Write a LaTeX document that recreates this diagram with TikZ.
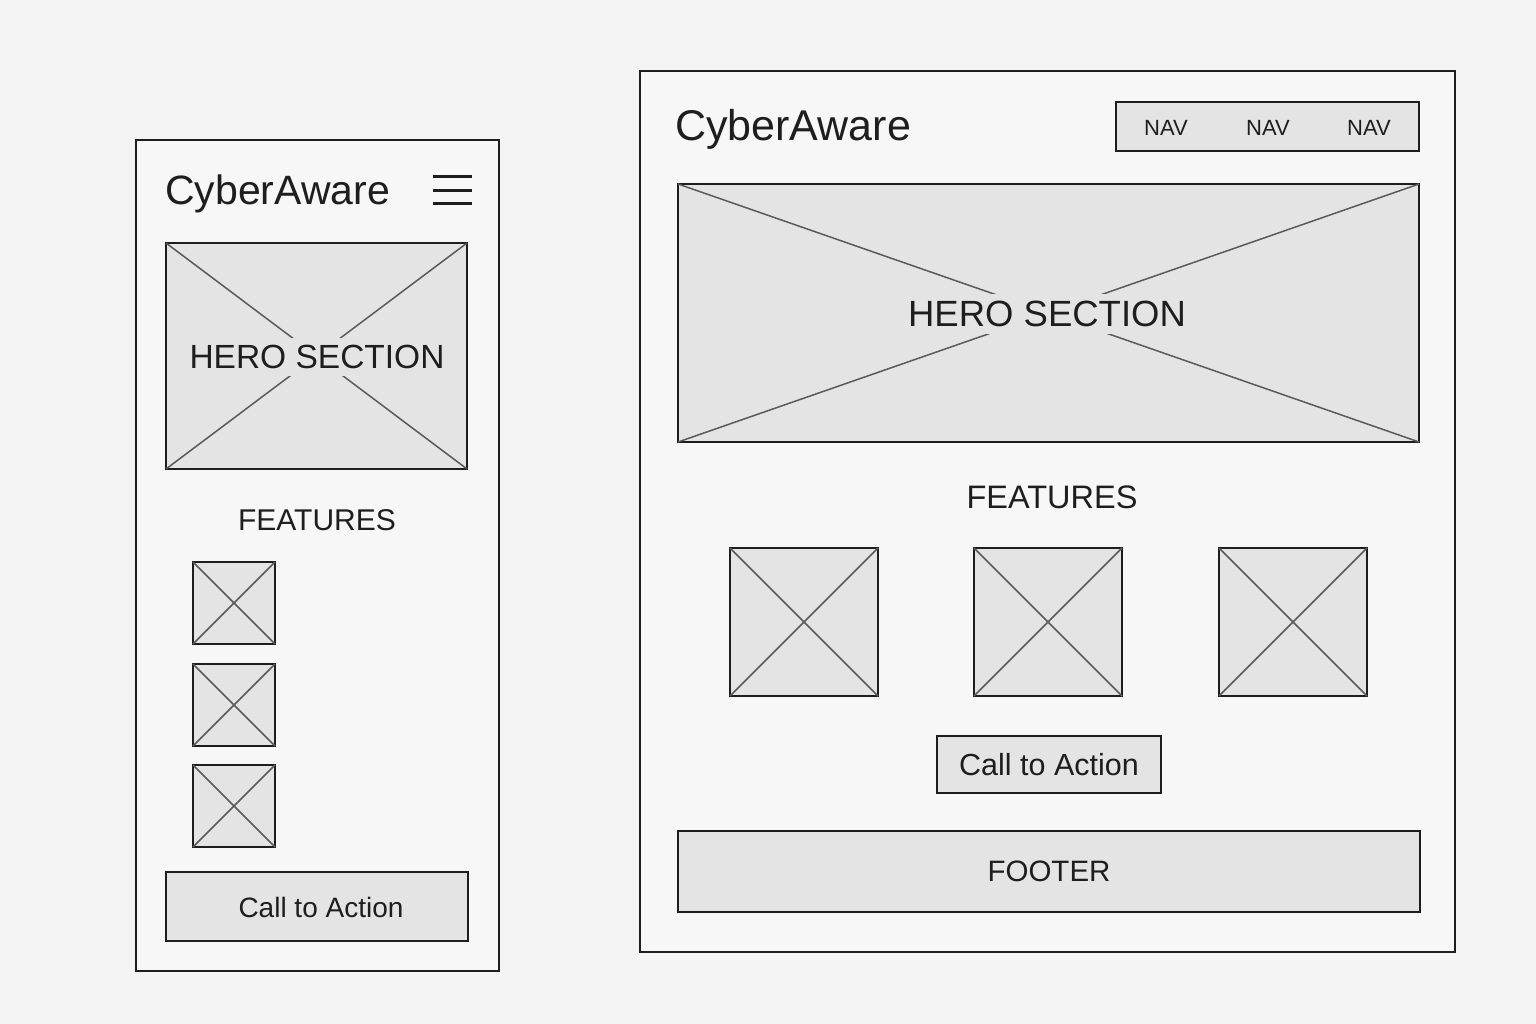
\documentclass[tikz,border=0pt]{standalone}
\usepackage{fontspec}
\setmainfont{Liberation Sans}
\definecolor{bg}{HTML}{F4F4F4}
\definecolor{page}{HTML}{F7F7F7}
\definecolor{panel}{HTML}{E4E4E4}
\definecolor{ink}{HTML}{1E1E1E}
\definecolor{cross}{HTML}{5A5A5A}
\newcommand{\fs}[1]{\fontsize{#1}{#1}\selectfont}
\tikzset{
  frame/.style={draw=ink, line width=2.6pt, fill=page, anchor=north west, inner sep=0pt, outer sep=0pt},
  panelbox/.style={draw=ink, line width=1.6pt, fill=panel, anchor=north west, inner sep=0pt, outer sep=0pt},
  crossline/.style={draw=cross, line width=1.5pt},
  txt/.style={text=ink, inner sep=0pt},
  heromask/.style={txt, fill=panel, inner xsep=2pt, inner ysep=7pt},
  burger/.style={draw=ink, line width=3pt},
}
\begin{document}
\begin{tikzpicture}[x=1pt, y=-1pt]
\useasboundingbox[fill=bg] (0,0) rectangle (1536,1024);

% ---------- mobile layout ----------
\node[frame, minimum width=363pt, minimum height=831pt] (mframe) at (136,140) {};
\node[txt, anchor=base west] (mlogo) at (165,205) {\fs{41}CyberAware};
\coordinate (mb1) at (433,177);
\coordinate (mb2) at (433,191);
\coordinate (mb3) at (433,204);
\draw[burger] (mb1) -- ++(39,0);
\draw[burger] (mb2) -- ++(39,0);
\draw[burger] (mb3) -- ++(39,0);

\node[panelbox, minimum width=301pt, minimum height=226pt] (mhero) at (166,243) {};
\draw[crossline] (mhero.north west) -- (mhero.south east);
\draw[crossline] (mhero.north east) -- (mhero.south west);
\node[heromask] (mherotxt) at (317,357) {\fs{33.5}HERO SECTION};

\node[txt] (mfeat) at (317,520) {\fs{30}FEATURES};

\foreach \i/\y in {1/562, 2/664, 3/765} {
  \node[panelbox, minimum width=82pt, minimum height=82pt] (mf\i) at (193,\y) {};
  \draw[crossline] (mf\i.north west) -- (mf\i.south east);
  \draw[crossline] (mf\i.north east) -- (mf\i.south west);
}

\node[panelbox, minimum width=302pt, minimum height=69pt] (mcta) at (166,872) {};
\node[txt] (mctatxt) at (321,907) {\fs{28}Call to Action};

% ---------- desktop layout ----------
\node[frame, minimum width=815pt, minimum height=881pt] (dframe) at (640,71) {};
\node[txt, anchor=base west] (dlogo) at (675,141) {\fs{43}CyberAware};

\node[panelbox, minimum width=303pt, minimum height=49pt] (dnav) at (1116,102) {};
\node[txt] (nav1) at (1166,128) {\fs{22}NAV};
\node[txt] (nav2) at (1268,128) {\fs{22}NAV};
\node[txt] (nav3) at (1369,128) {\fs{22}NAV};

\node[panelbox, minimum width=741pt, minimum height=258pt] (dhero) at (678,184) {};
\draw[crossline] (dhero.north west) -- (dhero.south east);
\draw[crossline] (dhero.north east) -- (dhero.south west);
\node[heromask, inner xsep=4pt] (dherotxt) at (1047,314) {\fs{36.5}HERO SECTION};

\node[txt] (dfeat) at (1052,497) {\fs{32.5}FEATURES};

\foreach \i/\x in {1/730, 2/974, 3/1219} {
  \node[panelbox, minimum width=148pt, minimum height=148pt] (df\i) at (\x,548) {};
  \draw[crossline] (df\i.north west) -- (df\i.south east);
  \draw[crossline] (df\i.north east) -- (df\i.south west);
}

\node[panelbox, minimum width=224pt, minimum height=57pt] (dcta) at (937,736) {};
\node[txt] (dctatxt) at (1049,765) {\fs{30.5}Call to Action};

\node[panelbox, minimum width=742pt, minimum height=81pt] (dfoot) at (678,831) {};
\node[txt] (dfoottxt) at (1049,871) {\fs{29.5}FOOTER};
\end{tikzpicture}
\end{document}
